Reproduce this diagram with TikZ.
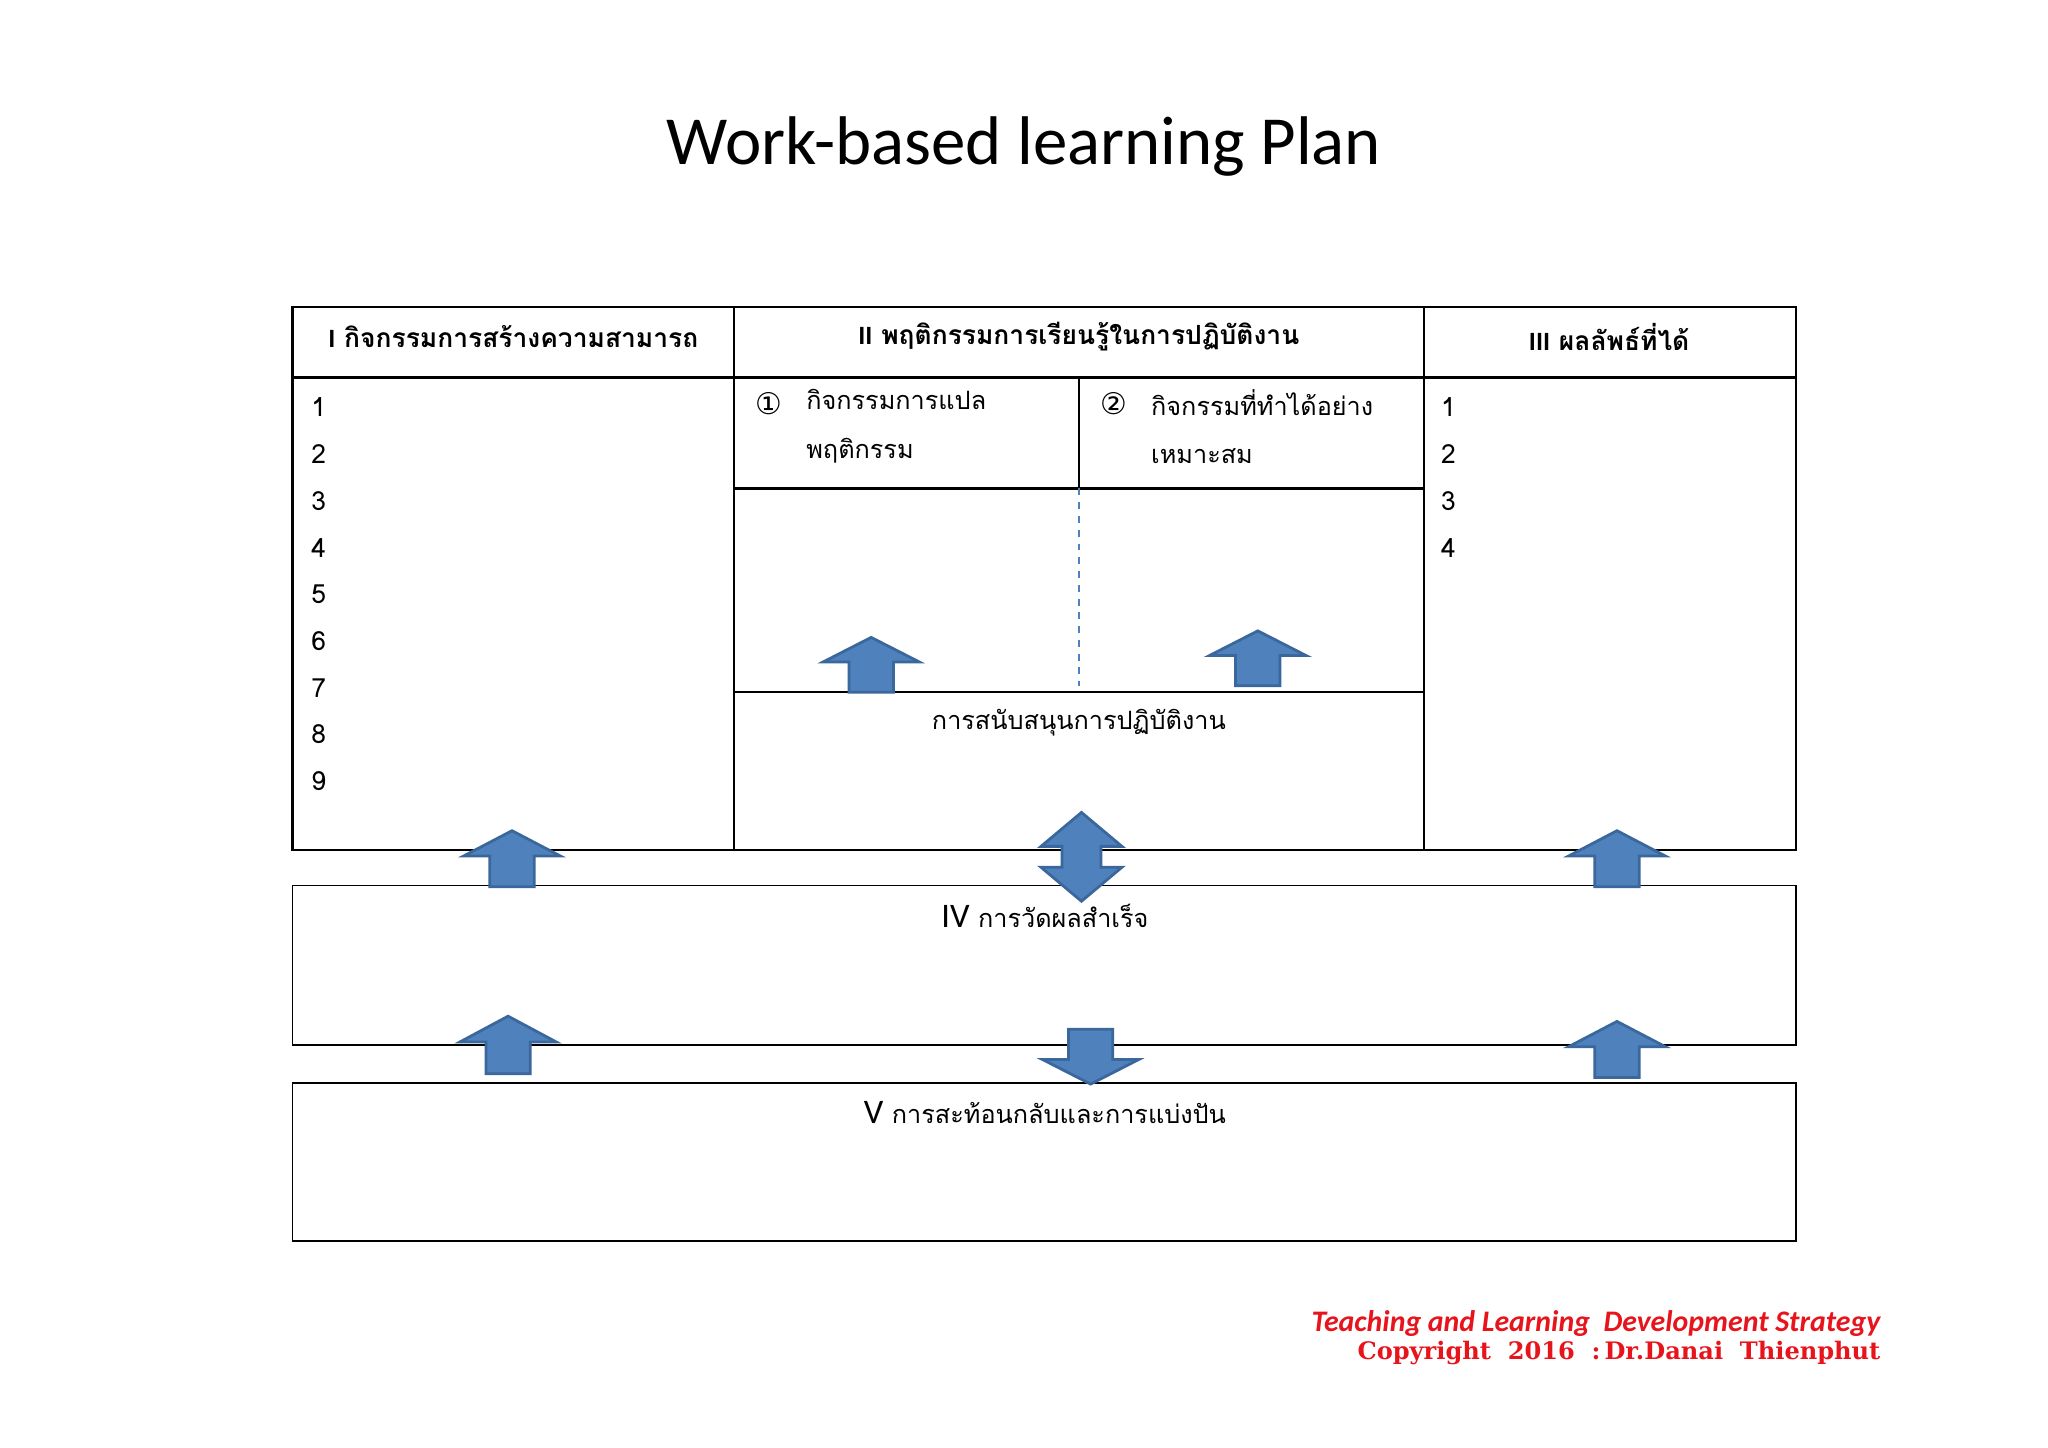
\documentclass[tikz,border=0pt]{standalone}
\usepackage{fontspec}
\setmainfont{Carlito}
\newfontfamily\thai[Script=Thai]{Loma}
\newfontfamily\dv{DejaVu Sans}
\newfontfamily\ft{DejaVu Serif}
\begin{document}
\begin{tikzpicture}[x=0.02cm,y=-0.02cm,
  ln/.style={draw=black,line width=1pt},
  arr/.style={fill=arrblue,draw=arrline,line width=1.2pt,line join=miter},
  th/.style={font=\thai\fontsize{11}{13}\selectfont,inner sep=0pt},
  thb/.style={font=\thai\bfseries\fontsize{11.5}{14}\selectfont,inner sep=0pt},
  num/.style={font=\thai\fontsize{11.5}{14}\selectfont,inner sep=0pt,anchor=west}]
\definecolor{arrblue}{HTML}{4F81BD}
\definecolor{arrline}{HTML}{3A679C}
\definecolor{fred}{HTML}{E8141C}
\useasboundingbox (0,0) rectangle (1568,1108);
\newcommand\myup[3]{\pgfmathsetmacro\hh{#2+0.45*(#3-#2)}%
  \draw[arr] (#1,#2) -- (#1+37,\hh) -- (#1+17,\hh) -- (#1+17,#3) -- (#1-17,#3) -- (#1-17,\hh) -- (#1-37,\hh) -- cycle;}
\newcommand\mydown[3]{\pgfmathsetmacro\hh{#3-0.45*(#3-#2)}%
  \draw[arr] (#1,#3) -- (#1+37,\hh) -- (#1+17,\hh) -- (#1+17,#2) -- (#1-17,#2) -- (#1-17,\hh) -- (#1-37,\hh) -- cycle;}
% title
\node (title) at (784,112) {\fontsize{30}{34}\selectfont Work-based learning Plan};
% main table
\draw[ln] (224,235) rectangle (1375,651);
\draw[ln] (224,289) -- (1375,289);
\draw[ln] (562,235) -- (562,651);
\draw[ln] (1090,235) -- (1090,651);
\draw[ln] (826,289) -- (826,374);
\draw[ln] (562,374) -- (1090,374);
\draw[ln] (562,530) -- (1090,530);
\draw[arrblue,dashed,line width=0.8pt] (826,374) -- (826,525);
\node[thb] (h1) at (393,258) {{\rmfamily I} กิจกรรมการสร้างความสามารถ};
\node[thb] (h2) at (826,258) {{\rmfamily II} พฤติกรรมการเรียนรู้ในการปฏิบัติงาน};
\node[thb] (h3) at (1232,258) {{\rmfamily III} ผลลัพธ์ที่ได้};
\foreach \i in {1,...,9} \node[num] at (238,{312+35.75*(\i-1)}) {\i};
\foreach \i in {1,...,4} \node[num] at (1103,{312+35.75*(\i-1)}) {\i};
\node[font=\dv\fontsize{13}{14}\selectfont,inner sep=0pt] (c1) at (589,309) {①};
\node[font=\dv\fontsize{13}{14}\selectfont,inner sep=0pt] (c2) at (853,309) {②};
\node[th,anchor=north west,align=left] (t1) at (617,298) {กิจกรรมการแปล\\[8pt]พฤติกรรม};
\node[th,anchor=north west,align=left] (t2) at (881,298) {กิจกรรมที่ทำได้อย่าง\\[8pt]เหมาะสม};
\node[th] (sup) at (826,553) {การสนับสนุนการปฏิบัติงาน};
% boxes IV V
\draw[ln,line width=0.7pt] (224,678) rectangle (1375,800);
\draw[ln,line width=0.7pt] (224,829) rectangle (1375,950);
\node[th] (iv) at (800,701) {{\rmfamily\fontsize{15}{16}\selectfont IV} การวัดผลสำเร็จ};
\node[th] (v) at (800,852) {{\rmfamily\fontsize{15}{16}\selectfont V} การสะท้อนกลับและการแบ่งปัน};
% arrows
\myup{392}{636}{679}
\myup{667}{488}{530}
\myup{963}{483}{525}
\myup{1238}{636}{679}
\myup{389}{778}{822}
\myup{1238}{782}{825}
\mydown{835}{788}{830}
\draw[arr] (828,622) -- (859,648) -- (843,648) -- (843,664) -- (859,664) -- (828,690) -- (797,664) -- (813,664) -- (813,648) -- (797,648) -- cycle;
% footer
\node[anchor=east,text=fred,inner sep=0pt] (f1) at (1440,1013) {\fontsize{13}{14}\selectfont\bfseries\itshape Teaching and Learning~~Development Strategy};
\node[anchor=east,text=fred,inner sep=0pt] (f2) at (1440,1036) {\ft\bfseries\fontsize{10.5}{12}\selectfont Copyright~~2016~~:\,Dr.Danai~~Thienphut};
\end{tikzpicture}
\end{document}
